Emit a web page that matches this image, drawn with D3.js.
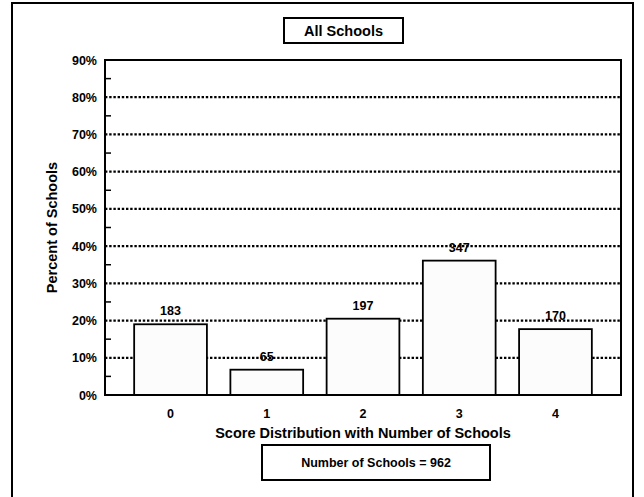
<!DOCTYPE html>
<html><head><meta charset="utf-8">
<script src="https://cdn.jsdelivr.net/npm/d3@7"></script>
<style>
html,body{margin:0;padding:0;background:#fff;}
text{font-family:"Liberation Sans",Arial,Helvetica,sans-serif;font-weight:bold;fill:#000;}
</style></head>
<body>
<svg id="chart" width="644" height="497"></svg>
<script>
const categories = ["0","1","2","3","4"];
const schoolCounts = [183, 65, 197, 347, 170];
const percentValues = [19.0, 6.8, 20.5, 36.1, 17.7];
const yTicks = [0,10,20,30,40,50,60,70,80,90];
const minorTicks = [5,15,25,35,45,55,65,75,85];
const chartTitle = "All Schools";
const xTitle = "Score Distribution with Number of Schools";
const yTitle = "Percent of Schools";
const totalLabel = "Number of Schools = 962";

const svg = d3.select("#chart");
const L = 105, R = 621, T = 60, B = 395;

// outer frame
svg.append("rect").attr("x",12).attr("y",3).attr("width",621).attr("height",510)
  .attr("fill","none").attr("stroke","#000").attr("stroke-width",2);

const x = d3.scaleBand().domain(categories).range([L,R]).paddingInner(0.244).paddingOuter(0.303);
const y = d3.scaleLinear().domain([0,90]).range([B,T]);

// gridlines
svg.append("g").selectAll("line").data(yTicks.filter(d=>d>0 && d<90)).join("line")
  .attr("x1",L).attr("x2",R).attr("y1",d=>y(d)).attr("y2",d=>y(d))
  .attr("stroke","#000").attr("stroke-width",2.2).attr("stroke-dasharray","2.4,1.8");

// minor ticks inside
svg.append("g").selectAll("line").data(minorTicks).join("line")
  .attr("x1",L).attr("x2",L+6).attr("y1",d=>y(d)).attr("y2",d=>y(d))
  .attr("stroke","#000").attr("stroke-width",1.5);

// bars
const data = categories.map((c,i)=>({c, v:percentValues[i], n:schoolCounts[i]}));
svg.append("g").selectAll("rect").data(data).join("rect")
  .attr("x",d=>x(d.c)).attr("width",x.bandwidth())
  .attr("y",d=>y(d.v)).attr("height",d=>y(0)-y(d.v))
  .attr("fill","#fcfcfc").attr("stroke","#000").attr("stroke-width",1.8);

// value labels
svg.append("g").selectAll("text").data(data).join("text")
  .attr("x",d=>x(d.c)+x.bandwidth()/2).attr("y",d=>y(d.v)-9)
  .attr("text-anchor","middle").attr("font-size","12.5px").text(d=>d.n);

// plot frame
svg.append("rect").attr("x",L).attr("y",T).attr("width",R-L).attr("height",B-T)
  .attr("fill","none").attr("stroke","#000").attr("stroke-width",2);

// y axis labels
svg.append("g").selectAll("text").data(yTicks).join("text")
  .attr("x",L-8).attr("y",d=>y(d)).attr("dy","0.36em")
  .attr("text-anchor","end").attr("font-size","12.5px").text(d=>d+"%");

// x tick labels
svg.append("g").selectAll("text").data(categories).join("text")
  .attr("x",d=>x(d)+x.bandwidth()/2).attr("y",418)
  .attr("text-anchor","middle").attr("font-size","12.5px").text(d=>d);

// axis titles
svg.append("text").attr("x",(L+R)/2).attr("y",438).attr("text-anchor","middle")
  .attr("font-size","14.5px").text(xTitle);
svg.append("text").attr("transform",`translate(57,${(T+B)/2}) rotate(-90)`)
  .attr("text-anchor","middle").attr("font-size","14.5px").text(yTitle);

// title box
svg.append("rect").attr("x",284).attr("y",18).attr("width",119).attr("height",25)
  .attr("fill","#fff").attr("stroke","#000").attr("stroke-width",2);
svg.append("text").attr("x",343.5).attr("y",35.5).attr("text-anchor","middle")
  .attr("font-size","14.5px").text(chartTitle);

// count box
svg.append("rect").attr("x",262).attr("y",445).attr("width",228).attr("height",35)
  .attr("fill","#fff").attr("stroke","#000").attr("stroke-width",2);
svg.append("text").attr("x",376).attr("y",467).attr("text-anchor","middle")
  .attr("font-size","12.5px").text(totalLabel);
</script>
</body></html>
